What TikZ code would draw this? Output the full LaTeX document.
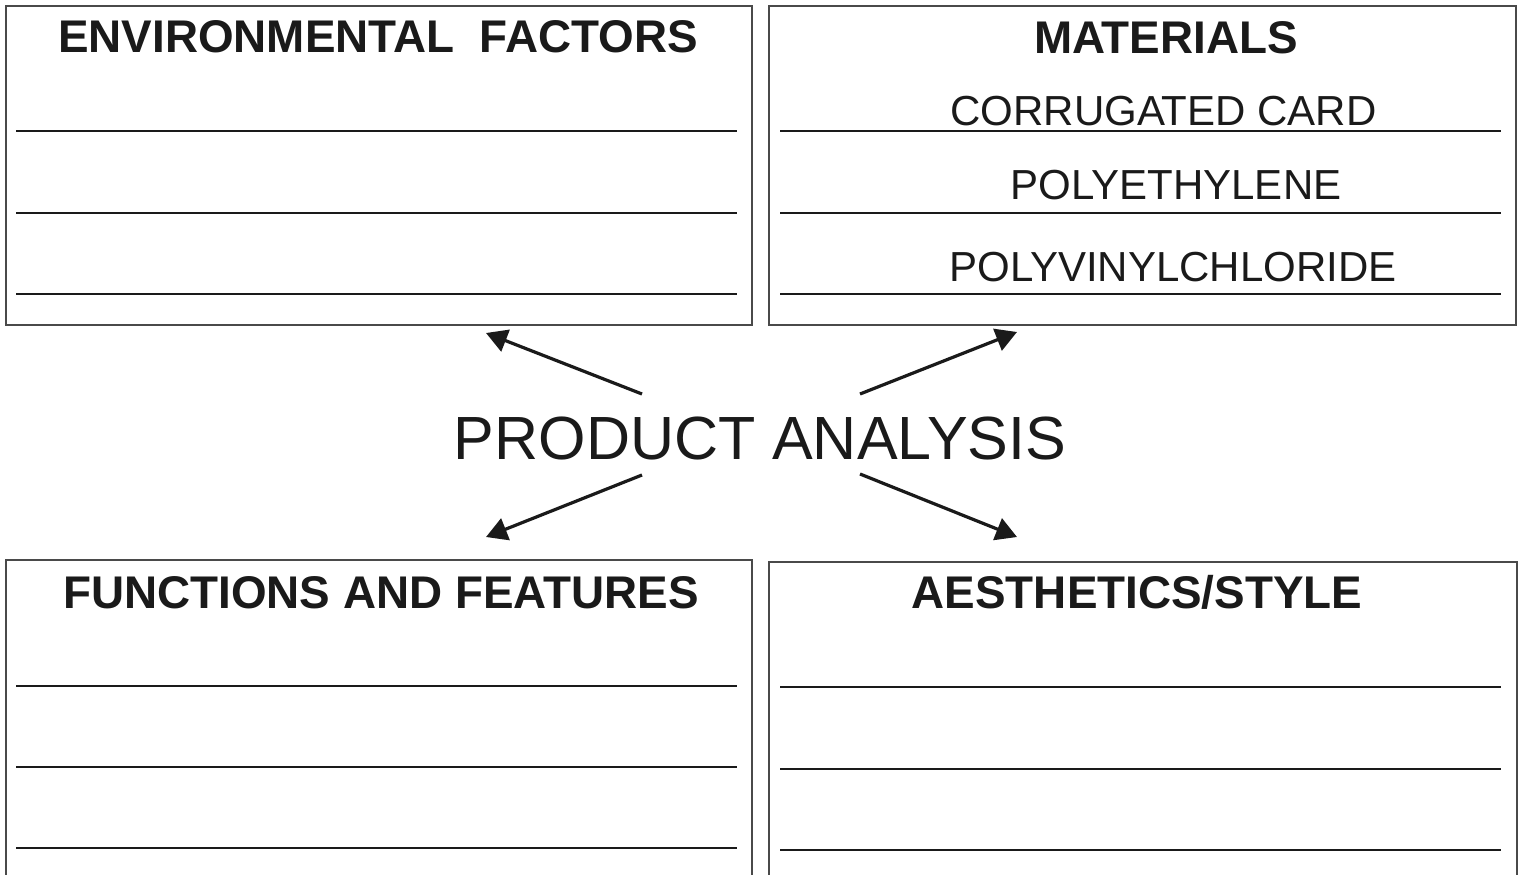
\documentclass[tikz,border=0pt]{standalone}
\usepackage{fontspec}
\setmainfont{Liberation Sans}
\usetikzlibrary{arrows.meta}
\definecolor{ink}{HTML}{1A1A1A}
\definecolor{frame}{HTML}{4A4A4A}
\begin{document}
\begin{tikzpicture}[x=1bp,y=-1bp,
  panel/.style={draw=frame, line width=1.6bp, fill=white, inner sep=0, outer sep=0},
  rule/.style={draw=ink, line width=1.8bp},
  head/.style={anchor=base, inner sep=0, text=ink, font=\fontsize{45.8bp}{54bp}\selectfont\bfseries},
  item/.style={anchor=base, inner sep=0, text=ink, font=\fontsize{42bp}{50bp}\selectfont},
  title/.style={anchor=base, inner sep=0, text=ink, font=\fontsize{61bp}{72bp}\selectfont},
  link/.style={draw=ink, line width=3.2bp, -{Triangle[length=21bp,width=23bp]}}]
\useasboundingbox (0,0) rectangle (1519,874);
\fill[white] (0,0) rectangle (1519,874);
\clip (0,0) rectangle (1519,874);
% panels
\node[panel, minimum width=746bp, minimum height=319bp] (env) at (379,165.5) {};
\node[panel, minimum width=747bp, minimum height=319bp] (mat) at (1142.5,165.5) {};
\node[panel, minimum width=746bp, minimum height=400bp] (fun) at (379,760) {};
\node[panel, minimum width=748bp, minimum height=400bp] (aes) at (1143,762) {};
% rules
\foreach \y in {131,213,294} {
  \draw[rule] (16,\y) -- (737,\y);
  \draw[rule] (780,\y) -- (1501,\y);
}
\foreach \y in {686,767,848} \draw[rule] (16,\y) -- (737,\y);
\foreach \y in {687,769,850} \draw[rule] (780,\y) -- (1501,\y);
% headings
\node[head] (envh) at (378,52.5) {ENVIRONMENTAL\ \ FACTORS};
\node[head] (math) at (1166,53) {MATERIALS};
\node[head] (funh) at (381,608) {FUNCTIONS AND FEATURES};
\node[head] (aesh) at (1137,608) {AESTHETICS/STYLE};
% material items
\node[item] (m1) at (1163.5,125.5) {CORRUGATED CARD};
\node[item] (m2) at (1176,199) {POLYETHYLENE};
\node[item] (m3) at (1173,281) {POLYVINYLCHLORIDE};
% centre
\node[title] (pa) at (760,459) {PRODUCT ANALYSIS};
% arrow ends
\coordinate (s1) at (642,394);
\coordinate (t1) at (486,333);
\coordinate (s2) at (860,394);
\coordinate (t2) at (1017,332);
\coordinate (s3) at (642,475);
\coordinate (t3) at (486,537);
\coordinate (s4) at (860,474);
\coordinate (t4) at (1017,537);
\draw[link] (s1) -- (t1);
\draw[link] (s2) -- (t2);
\draw[link] (s3) -- (t3);
\draw[link] (s4) -- (t4);
\end{tikzpicture}
\end{document}
